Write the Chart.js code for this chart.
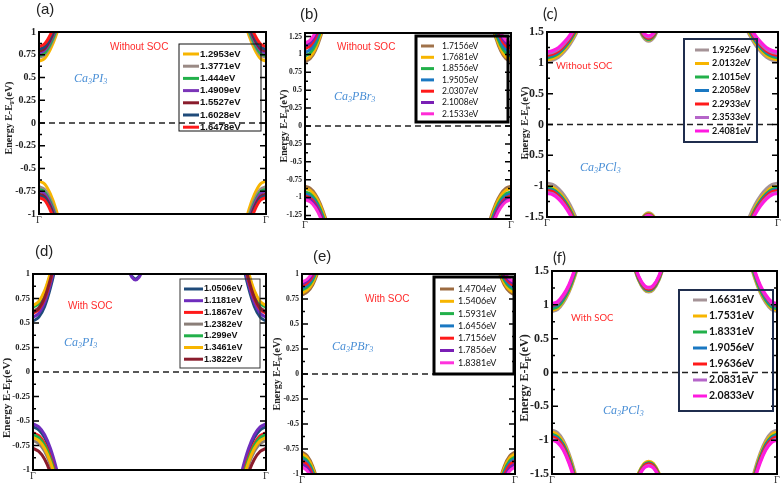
<!DOCTYPE html>
<html>
<head>
<meta charset="utf-8">
<script src="https://cdn.jsdelivr.net/npm/chart.js@4.4.0/dist/chart.umd.min.js"></script>
<style>
  html, body { margin: 0; background: #fff; }
  body { position: relative; width: 784px; height: 491px; overflow: hidden; }
  .cell { position: absolute; }
</style>
</head>
<body>
<div class="cell" style="left:0px;top:0px"><canvas id="pa" width="272" height="245"></canvas></div>
<div class="cell" style="left:268px;top:0px"><canvas id="pb" width="254" height="245"></canvas></div>
<div class="cell" style="left:518px;top:0px"><canvas id="pc" width="266" height="245"></canvas></div>
<div class="cell" style="left:0px;top:245px"><canvas id="pd" width="272" height="246"></canvas></div>
<div class="cell" style="left:268px;top:245px"><canvas id="pe" width="254" height="246"></canvas></div>
<div class="cell" style="left:518px;top:245px"><canvas id="pf" width="266" height="246"></canvas></div>
<script>
// k along the Γ→Γ path (fraction); bands near the right Γ mirror the left ones
const kNear = [0, 0.025, 0.05, 0.075, 0.1, 0.125, 0.15];
const yTicks1 = [-1, -0.75, -0.5, -0.25, 0, 0.25, 0.5, 0.75, 1];
const yTicks125 = [-1.25, -1, -0.75, -0.5, -0.25, 0, 0.25, 0.5, 0.75, 1, 1.25];
const yTicks15 = [-1.5, -1, -0.5, 0, 0.5, 1, 1.5];

// (a) Ca3PI3 without SOC
const gapsA = ['1.2953eV', '1.3771eV', '1.444eV', '1.4909eV', '1.5527eV', '1.6028eV', '1.6478eV'];
const cbA = [
  [0.68, 0.71, 0.81, 0.96, 1.18, 1.46, 1.78],
  [0.72, 0.75, 0.85, 1.00, 1.22, 1.50, 1.82],
  [0.74, 0.77, 0.87, 1.02, 1.24, 1.52, 1.84],
  [0.77, 0.80, 0.90, 1.05, 1.27, 1.55, 1.87],
  [0.79, 0.82, 0.92, 1.07, 1.29, 1.57, 1.89],
  [0.81, 0.84, 0.94, 1.09, 1.31, 1.59, 1.91],
  [0.84, 0.87, 0.97, 1.12, 1.34, 1.62, 1.94]
];
const vbA = [
  [-0.64, -0.67, -0.78, -0.95, -1.19, -1.50, -1.88],
  [-0.70, -0.73, -0.84, -1.01, -1.25, -1.56, -1.94],
  [-0.73, -0.76, -0.87, -1.04, -1.28, -1.59, -1.97],
  [-0.75, -0.78, -0.89, -1.06, -1.30, -1.61, -1.99],
  [-0.78, -0.81, -0.92, -1.09, -1.33, -1.64, -2.02],
  [-0.80, -0.83, -0.94, -1.11, -1.35, -1.66, -2.04],
  [-0.82, -0.85, -0.96, -1.13, -1.37, -1.68, -2.06]
];

// (b) Ca3PBr3 without SOC
const gapsB = ['1.7156eV', '1.7681eV', '1.8556eV', '1.9505eV', '2.0307eV', '2.1008eV', '2.1533eV'];
const cbB = [
  [0.90, 0.94, 1.05, 1.24, 1.50, 1.84, 2.25],
  [0.93, 0.97, 1.08, 1.27, 1.53, 1.87, 2.28],
  [0.98, 1.02, 1.13, 1.32, 1.58, 1.92, 2.33],
  [1.03, 1.07, 1.18, 1.37, 1.63, 1.97, 2.38],
  [1.08, 1.12, 1.23, 1.42, 1.68, 2.02, 2.43],
  [1.12, 1.16, 1.27, 1.46, 1.72, 2.06, 2.47],
  [1.16, 1.20, 1.31, 1.50, 1.76, 2.10, 2.51]
];
const vbB = [
  [-0.84, -0.87, -0.95, -1.09, -1.29, -1.54, -1.84],
  [-0.87, -0.90, -0.98, -1.12, -1.32, -1.57, -1.87],
  [-0.92, -0.95, -1.03, -1.17, -1.37, -1.62, -1.92],
  [-0.95, -0.98, -1.06, -1.20, -1.40, -1.65, -1.95],
  [-0.98, -1.01, -1.09, -1.23, -1.43, -1.68, -1.98],
  [-1.00, -1.03, -1.11, -1.25, -1.45, -1.70, -2.00],
  [-1.03, -1.06, -1.14, -1.28, -1.48, -1.73, -2.03]
];

// (c) Ca3PCl3 without SOC
const gapsC = ['1.9256eV', '2.0132eV', '2.1015eV', '2.2058eV', '2.2933eV', '2.3533eV', '2.4081eV'];
const cbC = [
  [1.02, 1.04, 1.09, 1.18, 1.30, 1.46, 1.65],
  [1.05, 1.07, 1.12, 1.21, 1.33, 1.49, 1.68],
  [1.08, 1.10, 1.15, 1.24, 1.36, 1.52, 1.71],
  [1.10, 1.12, 1.17, 1.26, 1.38, 1.54, 1.73],
  [1.12, 1.14, 1.19, 1.28, 1.40, 1.56, 1.75],
  [1.15, 1.17, 1.22, 1.31, 1.43, 1.59, 1.78],
  [1.18, 1.20, 1.25, 1.34, 1.46, 1.62, 1.81]
];
const vbC = [
  [-0.95, -0.97, -1.04, -1.15, -1.30, -1.50, -1.74],
  [-1.00, -1.02, -1.09, -1.20, -1.35, -1.55, -1.79],
  [-1.03, -1.05, -1.12, -1.23, -1.38, -1.58, -1.82],
  [-1.05, -1.07, -1.14, -1.25, -1.40, -1.60, -1.84],
  [-1.07, -1.09, -1.16, -1.27, -1.42, -1.62, -1.86],
  [-1.10, -1.12, -1.19, -1.30, -1.45, -1.65, -1.89],
  [-1.12, -1.14, -1.21, -1.32, -1.47, -1.67, -1.91]
];
const kMidC = [0.39, 0.415, 0.44, 0.465, 0.49];
const midTopC = [
  [1.63, 1.42, 1.35, 1.42, 1.63],
  [1.65, 1.44, 1.37, 1.44, 1.65],
  [1.66, 1.45, 1.38, 1.45, 1.66],
  [1.67, 1.46, 1.39, 1.46, 1.67],
  [1.68, 1.47, 1.40, 1.47, 1.68],
  [1.70, 1.49, 1.42, 1.49, 1.70],
  [1.72, 1.51, 1.44, 1.51, 1.72]
];
const midBotC = [
  [-1.71, -1.50, -1.43, -1.50, -1.71],
  [-1.72, -1.51, -1.44, -1.51, -1.72],
  [-1.73, -1.52, -1.45, -1.52, -1.73],
  [-1.74, -1.53, -1.46, -1.53, -1.74],
  [-1.74, -1.53, -1.46, -1.53, -1.74],
  [-1.75, -1.54, -1.47, -1.54, -1.75],
  [-1.76, -1.55, -1.48, -1.55, -1.76]
];

// (d) Ca3PI3 with SOC
const gapsD = ['1.0506eV', '1.1181eV', '1.1867eV', '1.2382eV', '1.299eV', '1.3461eV', '1.3822eV'];
const cbD = [
  [0.52, 0.56, 0.67, 0.86, 1.12, 1.46, 1.87],
  [0.56, 0.60, 0.71, 0.90, 1.16, 1.50, 1.91],
  [0.60, 0.64, 0.75, 0.94, 1.20, 1.54, 1.95],
  [0.62, 0.66, 0.77, 0.96, 1.22, 1.56, 1.97],
  [0.66, 0.70, 0.81, 1.00, 1.26, 1.60, 2.01],
  [0.68, 0.72, 0.83, 1.02, 1.28, 1.62, 2.03],
  [0.61, 0.65, 0.76, 0.95, 1.21, 1.55, 1.96]
];
const vbD = [
  [-0.56, -0.59, -0.67, -0.81, -1.01, -1.26, -1.56],
  [-0.53, -0.56, -0.64, -0.78, -0.98, -1.23, -1.53],
  [-0.62, -0.65, -0.73, -0.87, -1.07, -1.32, -1.62],
  [-0.70, -0.73, -0.81, -0.95, -1.15, -1.40, -1.70],
  [-0.64, -0.67, -0.75, -0.89, -1.09, -1.34, -1.64],
  [-0.67, -0.70, -0.78, -0.92, -1.12, -1.37, -1.67],
  [-0.78, -0.81, -0.89, -1.03, -1.23, -1.48, -1.78]
];
const kMidD = [0.41, 0.425, 0.44, 0.455, 0.47];
const midTopD = [
  [1.05, 0.975, 0.95, 0.975, 1.05],
  [1.04, 0.965, 0.94, 0.965, 1.04],
  [], [], [], [], []
];

// (e) Ca3PBr3 with SOC
const gapsE = ['1.4704eV', '1.5406eV', '1.5931eV', '1.6456eV', '1.7156eV', '1.7856eV', '1.8381eV'];
const cbE = [
  [0.79, 0.82, 0.89, 1.02, 1.19, 1.42, 1.69],
  [0.81, 0.84, 0.91, 1.04, 1.21, 1.44, 1.71],
  [0.84, 0.87, 0.94, 1.07, 1.24, 1.47, 1.74],
  [0.86, 0.89, 0.96, 1.09, 1.26, 1.49, 1.76],
  [0.88, 0.91, 0.98, 1.11, 1.28, 1.51, 1.78],
  [0.90, 0.93, 1.00, 1.13, 1.30, 1.53, 1.80],
  [0.92, 0.95, 1.02, 1.15, 1.32, 1.55, 1.82]
];
const vbE = [
  [-0.78, -0.82, -0.92, -1.09, -1.33, -1.64, -2.02],
  [-0.80, -0.84, -0.94, -1.11, -1.35, -1.66, -2.04],
  [-0.83, -0.87, -0.97, -1.14, -1.38, -1.69, -2.07],
  [-0.85, -0.89, -0.99, -1.16, -1.40, -1.71, -2.09],
  [-0.87, -0.91, -1.01, -1.18, -1.42, -1.73, -2.11],
  [-0.90, -0.94, -1.04, -1.21, -1.45, -1.76, -2.14],
  [-0.93, -0.97, -1.07, -1.24, -1.48, -1.79, -2.17]
];

// (f) Ca3PCl3 with SOC
const gapsF = ['1.6631eV', '1.7531eV', '1.8331eV', '1.9056eV', '1.9636eV', '2.0831eV', '2.0833eV'];
const cbF = [
  [0.90, 0.93, 1.03, 1.18, 1.40, 1.68, 2.02],
  [0.92, 0.95, 1.05, 1.20, 1.42, 1.70, 2.04],
  [0.94, 0.97, 1.07, 1.22, 1.44, 1.72, 2.06],
  [0.97, 1.00, 1.10, 1.25, 1.47, 1.75, 2.09],
  [0.99, 1.02, 1.12, 1.27, 1.49, 1.77, 2.11],
  [1.00, 1.03, 1.13, 1.28, 1.50, 1.78, 2.12],
  [1.02, 1.05, 1.15, 1.30, 1.52, 1.80, 2.14]
];
const vbF = [
  [-0.85, -0.89, -1.00, -1.19, -1.45, -1.79, -2.20],
  [-0.88, -0.92, -1.03, -1.22, -1.48, -1.82, -2.23],
  [-0.91, -0.95, -1.06, -1.25, -1.51, -1.85, -2.26],
  [-0.93, -0.97, -1.08, -1.27, -1.53, -1.87, -2.28],
  [-0.95, -0.99, -1.10, -1.29, -1.55, -1.89, -2.30],
  [-0.98, -1.02, -1.13, -1.32, -1.58, -1.92, -2.33],
  [-1.00, -1.04, -1.15, -1.34, -1.60, -1.94, -2.35]
];
const kMidF = [0.36, 0.385, 0.41, 0.43, 0.45, 0.475, 0.50];
const midTopF = [
  [1.60, 1.36, 1.22, 1.19, 1.22, 1.36, 1.60],
  [1.61, 1.37, 1.23, 1.20, 1.23, 1.37, 1.61],
  [1.62, 1.38, 1.24, 1.21, 1.24, 1.38, 1.62],
  [1.63, 1.39, 1.25, 1.22, 1.25, 1.39, 1.63],
  [1.64, 1.40, 1.26, 1.23, 1.26, 1.40, 1.64],
  [1.66, 1.42, 1.28, 1.25, 1.28, 1.42, 1.66],
  [1.67, 1.43, 1.29, 1.26, 1.29, 1.43, 1.67]
];
const midBotF = [
  [-1.73, -1.49, -1.35, -1.32, -1.35, -1.49, -1.73],
  [-1.72, -1.48, -1.34, -1.31, -1.34, -1.48, -1.72],
  [-1.74, -1.50, -1.36, -1.33, -1.36, -1.50, -1.74],
  [-1.75, -1.51, -1.37, -1.34, -1.37, -1.51, -1.75],
  [-1.76, -1.52, -1.38, -1.35, -1.38, -1.52, -1.76],
  [-1.78, -1.54, -1.40, -1.37, -1.40, -1.54, -1.78],
  [-1.79, -1.55, -1.41, -1.38, -1.41, -1.55, -1.79]
];

// colours (style, not data)
const ORANGE = '#f7b500', GREEN = '#22b04a', BLUE = '#1a78c2', RED = '#ff1a1a';
const colorsA = [ORANGE, '#9a8a85', GREEN, '#7b35b8', '#8a1c2c', '#1f4b7a', RED];
const colorsB = ['#a0724a', ORANGE, GREEN, BLUE, RED, '#7a1fb5', '#ff2bd6'];
const colorsC = ['#a59397', ORANGE, GREEN, BLUE, RED, '#b565c9', '#ff1ae0'];
const colorsD = ['#1f4b7a', '#6f2dbd', RED, '#8a7e78', GREEN, ORANGE, '#8a1c2c'];
const colorsE = ['#9c6b40', ORANGE, GREEN, BLUE, RED, '#7a1fb5', '#ff33dd'];
const colorsF = colorsC;

const SERIF = '"Liberation Serif", "Times New Roman", serif';

const panels = [
  { id: 'pa', cell: [0, 0, 272, 245], plot: [39, 32, 266, 214], yr: [-1, 1], ticks: yTicks1, tickPx: 10,
    labels: gapsA, colors: colorsA, cb: cbA, vb: vbA,
    tag: ['(a)', 36, 10, '15px Arial'], soc: ['Without SOC', 110, 47, '10px Arial'],
    formula: [['Ca', '3', 'PI', '3'], 74, 79], ytitle: [9, 118, 10],
    legend: { box: [179, 44, 261, 131], lw: 1, col: '#111', sx: [183, 199], tx: 200, y0: 54, dy: 12.2, font: 'bold 9.5px Arial' } },
  { id: 'pb', cell: [268, 0, 254, 245], plot: [305, 33, 511, 219], yr: [-1.3, 1.3], ticks: yTicks125, tickPx: 7.5,
    labels: gapsB, colors: colorsB, cb: cbB, vb: vbB,
    tag: ['(b)', 300, 15, '15px Arial'], soc: ['Without SOC', 337, 47, '10px Arial'],
    formula: [['Ca', '3', 'PBr', '3'], 334, 97], ytitle: [284, 126, 10],
    legend: { box: [416, 36, 508, 122], lw: 3, col: '#000', sx: [421, 434], tx: 442, y0: 46, dy: 11.3, font: '8.5px Lato' } },
  { id: 'pc', cell: [518, 0, 266, 245], plot: [547, 32, 778, 217], yr: [-1.5, 1.5], ticks: yTicks15, tickPx: 12,
    labels: gapsC, colors: colorsC, cb: cbC, vb: vbC, midK: kMidC, midTop: midTopC, midBot: midBotC,
    tag: ['(c)', 543, 14, '15px Lato'], soc: ['Without SOC', 556, 66, '9.5px Lato'],
    formula: [['Ca', '3', 'PCl', '3'], 580, 168], ytitle: [525, 123, 10],
    legend: { box: [684, 39, 757, 142], lw: 2, col: '#1f2d4d', sx: [695, 709], tx: 712, y0: 50, dy: 13.5, font: 'bold 9px Lato' } },
  { id: 'pd', cell: [0, 245, 272, 246], plot: [33, 274, 266, 470], yr: [-1, 1], ticks: yTicks1, tickPx: 8.5,
    labels: gapsD, colors: colorsD, cb: cbD, vb: vbD, midK: kMidD, midTop: midTopD,
    tag: ['(d)', 35, 252, '15px Arial'], soc: ['With SOC', 68, 306, '10px Arial'],
    formula: [['Ca', '3', 'PI', '3'], 64, 343], ytitle: [7, 398, 11],
    legend: { box: [180, 279, 260, 368], lw: 1, col: '#333', sx: [184, 203], tx: 204, y0: 289, dy: 11.7, font: 'bold 9px Arial' } },
  { id: 'pe', cell: [268, 245, 254, 246], plot: [302, 274, 515, 474], yr: [-1, 1], ticks: yTicks1, tickPx: 7.5,
    labels: gapsE, colors: colorsE, cb: cbE, vb: vbE,
    tag: ['(e)', 313, 257, '15px Arial'], soc: ['With SOC', 365, 299, '10px Arial'],
    formula: [['Ca', '3', 'PBr', '3'], 332, 347], ytitle: [277, 374, 10],
    legend: { box: [434, 277, 514, 374], lw: 3, col: '#000', sx: [440, 454], tx: 458, y0: 289, dy: 12.3, font: '9px Lato' } },
  { id: 'pf', cell: [518, 245, 266, 246], plot: [552, 271, 777, 474], yr: [-1.5, 1.5], ticks: yTicks15, tickPx: 12,
    labels: gapsF, colors: colorsF, cb: cbF, vb: vbF, midK: kMidF, midTop: midTopF, midBot: midBotF,
    tag: ['(f)', 553, 258, '15px Lato'], soc: ['With SOC', 571, 318, '9.5px Lato'],
    formula: [['Ca', '3', 'PCl', '3'], 603, 411], ytitle: [525, 378, 12],
    legend: { box: [679, 290, 773, 411], lw: 2, col: '#1f2d4d', sx: [693, 707], tx: 709, y0: 300, dy: 16, font: 'bold 10.5px Lato' } }
];

function pts(ks, ys, mirror) {
  const out = ks.map((k, j) => ({ x: mirror ? 1 - k : k, y: ys[j] }));
  return mirror ? out.reverse() : out;
}

function bandSets(p) {
  const sets = [];
  p.cb.forEach((row, i) => {
    const st = { borderColor: p.colors[i], borderWidth: 3, pointRadius: 0,
                 cubicInterpolationMode: 'monotone', fill: false, order: -i };
    sets.push({ ...st, data: pts(kNear, row, false) });
    sets.push({ ...st, data: pts(kNear, row, true) });
    sets.push({ ...st, data: pts(kNear, p.vb[i], false) });
    sets.push({ ...st, data: pts(kNear, p.vb[i], true) });
    if (p.midTop && p.midTop[i].length) sets.push({ ...st, data: pts(p.midK, p.midTop[i], false) });
    if (p.midBot && p.midBot[i].length) sets.push({ ...st, data: pts(p.midK, p.midBot[i], false) });
  });
  // Fermi level
  sets.push({ data: [{ x: 0, y: 0 }, { x: 1, y: 0 }], borderColor: '#222', borderWidth: 1.5,
              borderDash: [6, 4], pointRadius: 0, order: -100 });
  return sets;
}

function deco(p) {
  return {
    id: 'deco',
    afterDraw(chart) {
      const ctx = chart.ctx, ox = p.cell[0], oy = p.cell[1];
      const { left, top, right, bottom } = chart.chartArea;
      const ys = chart.scales.y;
      ctx.save();
      // frame and inward ticks
      ctx.strokeStyle = '#000';
      ctx.lineWidth = 2;
      ctx.strokeRect(left, top, right - left, bottom - top);
      ctx.lineWidth = 1.5;
      p.ticks.forEach((v, j) => {
        const py = ys.getPixelForValue(v);
        ctx.beginPath();
        ctx.moveTo(left, py); ctx.lineTo(left + 6, py);
        ctx.moveTo(right, py); ctx.lineTo(right - 6, py);
        ctx.stroke();
        if (j < p.ticks.length - 1) {
          const my = ys.getPixelForValue((v + p.ticks[j + 1]) / 2);
          ctx.beginPath();
          ctx.moveTo(left, my); ctx.lineTo(left + 3, my);
          ctx.moveTo(right, my); ctx.lineTo(right - 3, my);
          ctx.stroke();
        }
      });
      // legend
      const lg = p.legend;
      ctx.lineWidth = lg.lw;
      ctx.strokeStyle = lg.col;
      ctx.strokeRect(lg.box[0] - ox, lg.box[1] - oy, lg.box[2] - lg.box[0], lg.box[3] - lg.box[1]);
      ctx.font = lg.font;
      ctx.textBaseline = 'middle';
      ctx.fillStyle = '#111';
      p.labels.forEach((t, i) => {
        const y = lg.y0 + i * lg.dy - oy;
        ctx.strokeStyle = p.colors[i];
        ctx.lineWidth = 3;
        ctx.beginPath();
        ctx.moveTo(lg.sx[0] - ox, y); ctx.lineTo(lg.sx[1] - ox, y);
        ctx.stroke();
        ctx.fillText(t, lg.tx - ox, y);
      });
      // panel tag and SOC note
      ctx.fillStyle = '#222';
      ctx.font = p.tag[3];
      ctx.fillText(p.tag[0], p.tag[1] - ox, p.tag[2] - oy);
      ctx.fillStyle = '#ff2b2b';
      ctx.font = p.soc[3];
      ctx.fillText(p.soc[0], p.soc[1] - ox, p.soc[2] - oy);
      // compound formula with subscripts
      ctx.fillStyle = '#4a8fd6';
      let fx = p.formula[1] - ox;
      const fy = p.formula[2] - oy;
      p.formula[0].forEach((part, j) => {
        const sub = j % 2 === 1;
        ctx.font = 'italic ' + (sub ? 8 : 12) + 'px ' + SERIF;
        ctx.fillText(part, fx, fy + (sub ? 3 : 0));
        fx += ctx.measureText(part).width;
      });
      // y title: Energy E-E_F(eV)
      const [tx, ty, ts] = p.ytitle;
      ctx.translate(tx - ox, ty - oy);
      ctx.rotate(-Math.PI / 2);
      ctx.fillStyle = '#222';
      const big = 'bold ' + ts + 'px ' + SERIF, small = 'bold ' + (ts * 0.7) + 'px ' + SERIF;
      ctx.font = big; const w1 = ctx.measureText('Energy E-E').width, w3 = ctx.measureText('(eV)').width;
      ctx.font = small; const w2 = ctx.measureText('F').width;
      let x0 = -(w1 + w2 + w3) / 2;
      ctx.font = big; ctx.fillText('Energy E-E', x0, 0);
      ctx.font = small; ctx.fillText('F', x0 + w1, ts * 0.3);
      ctx.font = big; ctx.fillText('(eV)', x0 + w1 + w2, 0);
      ctx.restore();
    }
  };
}

panels.forEach(p => {
  const [cx, cy, cw, ch] = p.cell;
  const [L, T, R, B] = p.plot;
  new Chart(document.getElementById(p.id), {
    type: 'line',
    data: { datasets: bandSets(p) },
    options: {
      responsive: false,
      animation: false,
      events: [],
      layout: { padding: { top: T - cy, right: cx + cw - R, bottom: 0, left: 0 } },
      plugins: { legend: { display: false }, tooltip: { enabled: false } },
      scales: {
        x: {
          type: 'linear', min: 0, max: 1,
          afterFit: s => { s.height = cy + ch - B; },
          afterBuildTicks: s => { s.ticks = [{ value: 0 }, { value: 1 }]; },
          grid: { display: false, drawTicks: false },
          border: { display: false },
          ticks: { callback: () => 'Γ', padding: 0, maxRotation: 0, autoSkip: false,
                   color: '#333', font: { family: SERIF, size: 10 } }
        },
        y: {
          min: p.yr[0], max: p.yr[1],
          afterFit: s => { s.width = L - cx; },
          afterBuildTicks: s => { s.ticks = p.ticks.map(v => ({ value: v })); },
          grid: { display: false, drawTicks: false },
          border: { display: false },
          ticks: { padding: 3, color: '#222', callback: v => String(v),
                   font: { family: SERIF, size: p.tickPx, weight: 'bold' } }
        }
      }
    },
    plugins: [deco(p)]
  });
});
</script>
</body>
</html>
